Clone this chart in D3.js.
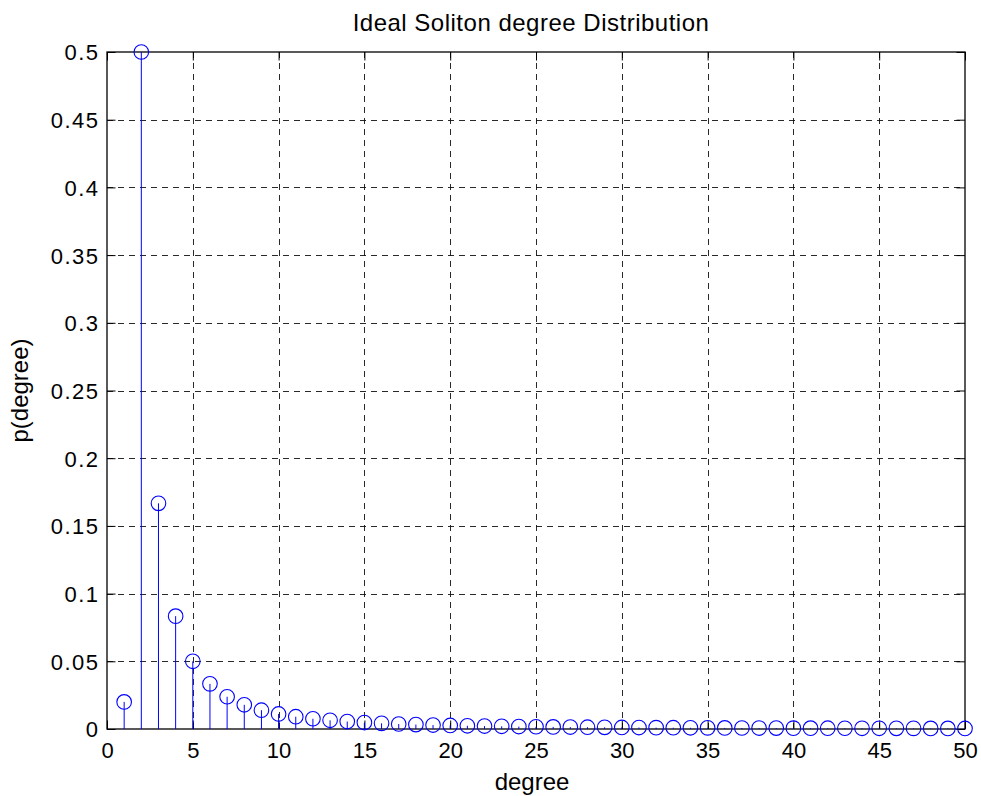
<!DOCTYPE html>
<html>
<head>
<meta charset="utf-8">
<script src="https://cdn.jsdelivr.net/npm/d3@7"></script>
<style>
  html, body { margin: 0; padding: 0; background: #fff; }
  svg { display: block; }
  text { font-family: "Liberation Sans", Arial, Helvetica, sans-serif; fill: #000; }
</style>
</head>
<body>
<svg id="chart" width="981" height="796"></svg>
<script>
// Ideal Soliton degree distribution for K = 50
const degrees = [
  1, 2, 3, 4, 5, 6, 7, 8, 9, 10,
  11, 12, 13, 14, 15, 16, 17, 18, 19, 20,
  21, 22, 23, 24, 25, 26, 27, 28, 29, 30,
  31, 32, 33, 34, 35, 36, 37, 38, 39, 40,
  41, 42, 43, 44, 45, 46, 47, 48, 49, 50
];
const probabilities = [
  0.02, 0.5, 0.166667, 0.083333, 0.05, 0.033333, 0.0238095, 0.0178571, 0.0138889, 0.0111111,
  0.0090909, 0.0075758, 0.0064103, 0.0054945, 0.0047619, 0.0041667, 0.0036765, 0.0032680, 0.0029240, 0.0026316,
  0.0023810, 0.0021645, 0.0019763, 0.0018116, 0.0016667, 0.0015385, 0.0014245, 0.0013228, 0.0012315, 0.0011494,
  0.0010753, 0.0010081, 0.0009470, 0.0008913, 0.0008403, 0.0007937, 0.0007508, 0.0007112, 0.0006748, 0.0006410,
  0.0006098, 0.0005807, 0.0005537, 0.0005285, 0.0005051, 0.0004831, 0.0004625, 0.0004433, 0.0004252, 0.0004082
];
const xTicks = [0, 5, 10, 15, 20, 25, 30, 35, 40, 45, 50];
const yTicks = [0, 0.05, 0.1, 0.15, 0.2, 0.25, 0.3, 0.35, 0.4, 0.45, 0.5];
const yTickLabels = ["0", "0.05", "0.1", "0.15", "0.2", "0.25", "0.3", "0.35", "0.4", "0.45", "0.5"];

const titleText = "Ideal Soliton degree Distribution";
const xLabelText = "degree";
const yLabelText = "p(degree)";

const margin = { left: 107, top: 52, right: 16, bottom: 67 };
const W = 981, H = 796;
const plotW = W - margin.left - margin.right;
const plotH = H - margin.top - margin.bottom;

const svg = d3.select("#chart");
const g = svg.append("g").attr("transform", `translate(${margin.left},${margin.top})`);

const x = d3.scaleLinear().domain([0, 50]).range([0, plotW]);
const y = d3.scaleLinear().domain([0, 0.5]).range([plotH, 0]);

const tickLen = 8.5;
const fontSize = 22;

// dashed grid
const grid = g.append("g").attr("class", "grid")
  .attr("stroke", "#111").attr("stroke-width", 0.9).attr("stroke-dasharray", "6,5");
grid.selectAll("line.gx").data(xTicks.filter(t => t > 0 && t < 50)).join("line")
  .attr("class", "gx")
  .attr("x1", d => Math.round(x(d)) + 0.5).attr("x2", d => Math.round(x(d)) + 0.5)
  .attr("y1", 0).attr("y2", plotH);
grid.selectAll("line.gy").data(yTicks.filter(t => t > 0 && t < 0.5)).join("line")
  .attr("class", "gy")
  .attr("y1", d => Math.round(y(d)) + 0.5).attr("y2", d => Math.round(y(d)) + 0.5)
  .attr("x1", 0).attr("x2", plotW);

// axes with inward ticks
const xAxisB = d3.axisBottom(x).tickValues(xTicks).tickSize(-tickLen).tickPadding(13).tickFormat(d3.format("d"));
const xAxisT = d3.axisTop(x).tickValues(xTicks).tickSize(-tickLen).tickFormat("");
const yAxisL = d3.axisLeft(y).tickValues(yTicks).tickSize(-tickLen).tickPadding(7.5)
  .tickFormat((d, i) => yTickLabels[i]);
const yAxisR = d3.axisRight(y).tickValues(yTicks).tickSize(-tickLen).tickFormat("");

function styleAxis(sel) {
  sel.select(".domain").remove();
  sel.selectAll(".tick line").attr("stroke", "#000").attr("stroke-width", 1);
  sel.selectAll(".tick text").attr("font-size", fontSize)
    .attr("font-family", "'Liberation Sans', Arial, sans-serif").attr("fill", "#000");
}

g.append("g").attr("transform", `translate(0,${plotH})`).call(xAxisB).call(styleAxis);
g.append("g").call(xAxisT).call(styleAxis);
g.append("g").call(yAxisL).call(styleAxis)
  .selectAll(".tick text").attr("letter-spacing", 1.5).attr("dy", "0.36em");
g.append("g").attr("transform", `translate(${plotW},0)`).call(yAxisR).call(styleAxis);

// plot box
g.append("rect").attr("x", 0).attr("y", 0).attr("width", plotW).attr("height", plotH)
  .attr("fill", "none").attr("stroke", "#000").attr("stroke-width", 1.3);

// stems
const pts = degrees.map((d, i) => ({ d, p: probabilities[i] }));
g.append("g").selectAll("line").data(pts).join("line")
  .attr("x1", d => x(d.d)).attr("x2", d => x(d.d))
  .attr("y1", y(0)).attr("y2", d => y(d.p))
  .attr("stroke", "#0000ff").attr("stroke-width", 1);

// markers
g.append("g").selectAll("circle").data(pts).join("circle")
  .attr("cx", d => x(d.d)).attr("cy", d => y(d.p)).attr("r", 7.3)
  .attr("fill", "none").attr("stroke", "#0000ff").attr("stroke-width", 1.1);

// title and axis labels
svg.append("text").attr("x", margin.left + plotW / 2 - 5).attr("y", 31)
  .attr("text-anchor", "middle").attr("font-size", 24).attr("letter-spacing", 0.5).text(titleText);
svg.append("text").attr("x", margin.left + plotW / 2 - 4).attr("y", 790)
  .attr("text-anchor", "middle").attr("font-size", 24).text(xLabelText);
svg.append("text")
  .attr("transform", `translate(27.5,${margin.top + plotH / 2}) rotate(-90)`)
  .attr("text-anchor", "middle").attr("font-size", 24).text(yLabelText);
</script>
</body>
</html>
